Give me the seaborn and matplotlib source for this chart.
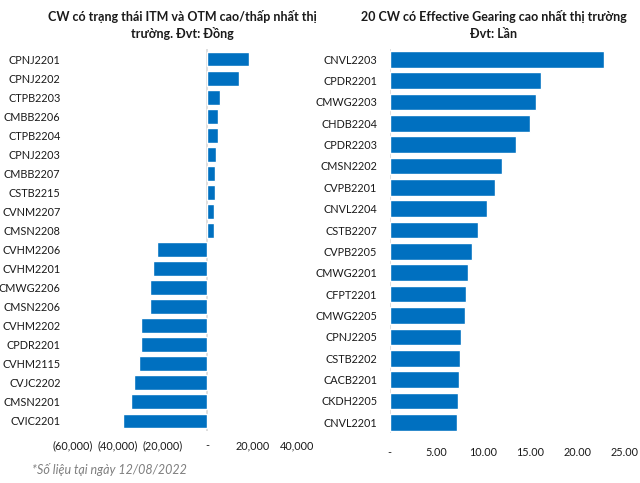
import matplotlib
matplotlib.use("Agg")
import matplotlib.pyplot as plt
import seaborn as sns
from matplotlib.ticker import FuncFormatter, FixedLocator

sns.set_theme(style="white")
plt.rcParams['font.family'] = ['Lato', 'DejaVu Sans']

# ---- Data ----
left_names = ["CPNJ2201", "CPNJ2202", "CTPB2203", "CMBB2206", "CTPB2204", "CPNJ2203",
              "CMBB2207", "CSTB2215", "CVNM2207", "CMSN2208", "CVHM2206", "CVHM2201",
              "CMWG2206", "CMSN2206", "CVHM2202", "CPDR2201", "CVHM2115", "CVJC2202",
              "CMSN2201", "CVIC2201"]
left_values = [18500, 14100, 5600, 4700, 4700, 3900, 3400, 3400, 3000, 3000,
               -22400, -24100, -25500, -25500, -29500, -29500, -30400, -32600,
               -33900, -37900]
left_ticks = [-60000, -40000, -20000, 0, 20000, 40000]

right_names = ["CNVL2203", "CPDR2201", "CMWG2203", "CHDB2204", "CPDR2203", "CMSN2202",
               "CVPB2201", "CNVL2204", "CSTB2207", "CVPB2205", "CMWG2201", "CFPT2201",
               "CMWG2205", "CPNJ2205", "CSTB2202", "CACB2201", "CKDH2205", "CNVL2201"]
right_values = [22.8, 16.1, 15.55, 14.9, 13.5, 11.95, 11.2, 10.35, 9.4, 8.76,
                8.33, 8.12, 8.01, 7.59, 7.48, 7.37, 7.27, 7.16]
right_ticks = [0, 5, 10, 15, 20, 25]

left_title = "CW có trạng thái ITM và OTM cao/thấp nhất thị\ntrường. Đvt: Đồng"
right_title = "20 CW có Effective Gearing cao nhất thị trường\nĐvt: Lần"
footnote = "*Số liệu tại ngày 12/08/2022"

BAR = "#0070C0"
AXC = "#D9D9D9"
TXT = "#1a1a1a"

W, H = 640, 483
fig = plt.figure(figsize=(W / 100, H / 100), dpi=100)


def px_axes(x0, y0, x1, y1):
    return fig.add_axes([x0 / W, 1 - y1 / H, (x1 - x0) / W, (y1 - y0) / H])


def fmt_left(v, pos):
    if abs(v) < 1e-9:
        return "-"
    if v < 0:
        return "({:,.0f})".format(-v)
    return "{:,.0f}".format(v)


def fmt_right(v, pos):
    if abs(v) < 1e-9:
        return "-"
    return "{:.2f}".format(v)


def style(ax, ticks, fmt, lim):
    ax.set_xlim(*lim)
    ax.xaxis.set_major_locator(FixedLocator(ticks))
    ax.xaxis.set_major_formatter(FuncFormatter(fmt))
    for s in ax.spines.values():
        s.set_visible(False)
    ax.axvline(0, color=AXC, lw=1.2, zorder=0)
    ax.tick_params(axis="both", length=0, labelsize=7.8, colors=TXT)
    ax.tick_params(axis="y", pad=9)
    ax.tick_params(axis="x", pad=7)
    ax.set_xlabel("")
    ax.set_ylabel("")
    ax.grid(False)


ax1 = px_axes(73, 49.5, 297, 430.5)
sns.barplot(x=left_values, y=left_names, orient="h", color=BAR, saturation=1,
            width=0.78, ax=ax1)
style(ax1, left_ticks, fmt_left, (-60000, 40000))
ax1.set_ylim(len(left_names) - 0.5, -0.5)

ax2 = px_axes(389.7, 48.5, 624.3, 433)
sns.barplot(x=right_values, y=right_names, orient="h", color=BAR, saturation=1,
            width=0.78, ax=ax2)
style(ax2, right_ticks, fmt_right, (0, 25))
ax2.tick_params(axis="x", pad=10)
ax2.set_ylim(len(right_names) - 0.5, -0.5)

fig.text(182 / W, 1 - 25 / H, left_title, ha="center", va="center",
         fontsize=9, fontweight="bold", color=TXT, linespacing=1.45)
fig.text(494 / W, 1 - 25 / H, right_title, ha="center", va="center",
         fontsize=9, fontweight="bold", color=TXT, linespacing=1.45)
fig.text(32 / W, 1 - 470 / H, footnote, ha="left", va="center",
         fontsize=9, style="italic", color="#7F7F7F")

fig.savefig("out.png", dpi=100, facecolor="white")
